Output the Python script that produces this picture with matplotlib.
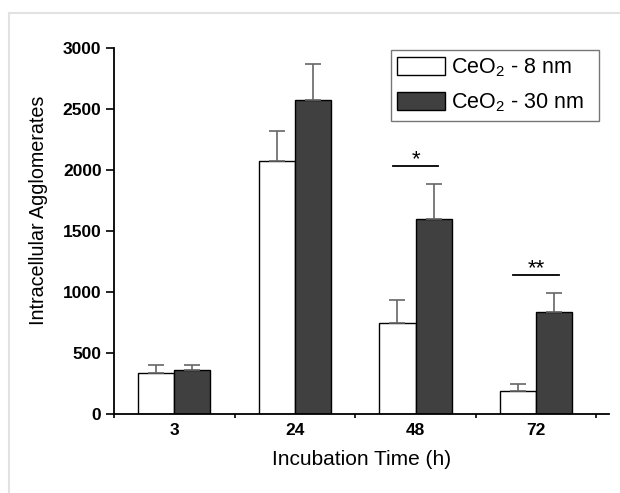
import numpy as np
import matplotlib.pyplot as plt
from matplotlib.lines import Line2D

plt.rcParams['font.family'] = ['Liberation Sans', 'DejaVu Sans']
plt.rcParams['mathtext.fontset'] = 'custom'
plt.rcParams['mathtext.rm'] = 'Liberation Sans'

times = ["3", "24", "48", "72"]
small_vals = [340, 2070, 750, 188]
small_err = [66, 248, 185, 60]
large_vals = [365, 2569, 1598, 837]
large_err = [38, 295, 289, 158]
series_labels = [r"CeO$_\mathregular{2}$ - 8 nm", r"CeO$_\mathregular{2}$ - 30 nm"]
sig_groups = [2, 3]
sig_heights = [2030, 1140]
sig_marks = ["*", "**"]

fig = plt.figure(figsize=(6.2, 4.93), dpi=100)
ax = fig.add_axes([114/620, 1 - 414.3/493, (609 - 114)/620, (414.3 - 47.7)/493])

x = np.arange(len(times))
w = 0.3
err_kw = dict(ecolor="#666666", elinewidth=1.2, capsize=5.5, capthick=1.2)
ax.bar(x - w/2, small_vals, w, color="white", edgecolor="black", linewidth=1,
       yerr=[np.zeros(len(times)), small_err], error_kw=err_kw, label=series_labels[0], zorder=2)
ax.bar(x + w/2, large_vals, w, color="#404040", edgecolor="black", linewidth=1,
       yerr=[np.zeros(len(times)), large_err], error_kw=err_kw, label=series_labels[1], zorder=2)

# significance markers
for g, h, m in zip(sig_groups, sig_heights, sig_marks):
    ax.plot([g - 0.19, g + 0.19], [h, h], color="black", lw=1.3)
    ax.annotate(m, (g, h), xytext=(0, -3), textcoords="offset points",
                ha="center", va="bottom", fontsize=16)

ax.set_xlim(-0.5, 3.604)
ax.set_ylim(0, 3000)
ax.set_yticks(np.arange(0, 3001, 500))
ax.set_xticks(x)
ax.set_xticklabels(times)
ax.set_xticks(np.arange(-0.5, 3.6, 1.0), minor=True)
ax.tick_params(axis="x", which="major", length=0, pad=6)
ax.tick_params(axis="x", which="minor", length=3, width=1.2, direction="out")
ax.tick_params(axis="y", length=5.5, width=1.2, pad=3.5)
for lab in ax.get_xticklabels() + ax.get_yticklabels():
    lab.set_fontweight("bold")
    lab.set_fontsize(12.5)
for s in ["top", "right"]:
    ax.spines[s].set_visible(False)
for s in ["left", "bottom"]:
    ax.spines[s].set_linewidth(1.3)

ax.set_xlabel("Incubation Time (h)", fontsize=15, labelpad=9)
ax.set_ylabel("Intracellular Agglomerates", fontsize=14.2)
ax.yaxis.set_label_coords(-0.134, 0.556)

fig.legend(loc="upper left",
           bbox_to_anchor=(390.7/620, 1 - 122.3/493, (599.3 - 390.7)/620, 72.6/493),
           mode="expand", fontsize=15.5, frameon=True, fancybox=False, edgecolor="#555555",
           borderpad=0.3, handlelength=2.2, handleheight=0.9,
           handletextpad=0.3, labelspacing=0.6, borderaxespad=0)

fig.add_artist(Line2D([9/620, 9/620], [0, 1 - 13/493], transform=fig.transFigure,
                      color="#e2e2e2", lw=1.5))
fig.add_artist(Line2D([9/620, 1], [1 - 13/493, 1 - 13/493], transform=fig.transFigure,
                      color="#e2e2e2", lw=1.5))

fig.savefig("out.png", dpi=100)
